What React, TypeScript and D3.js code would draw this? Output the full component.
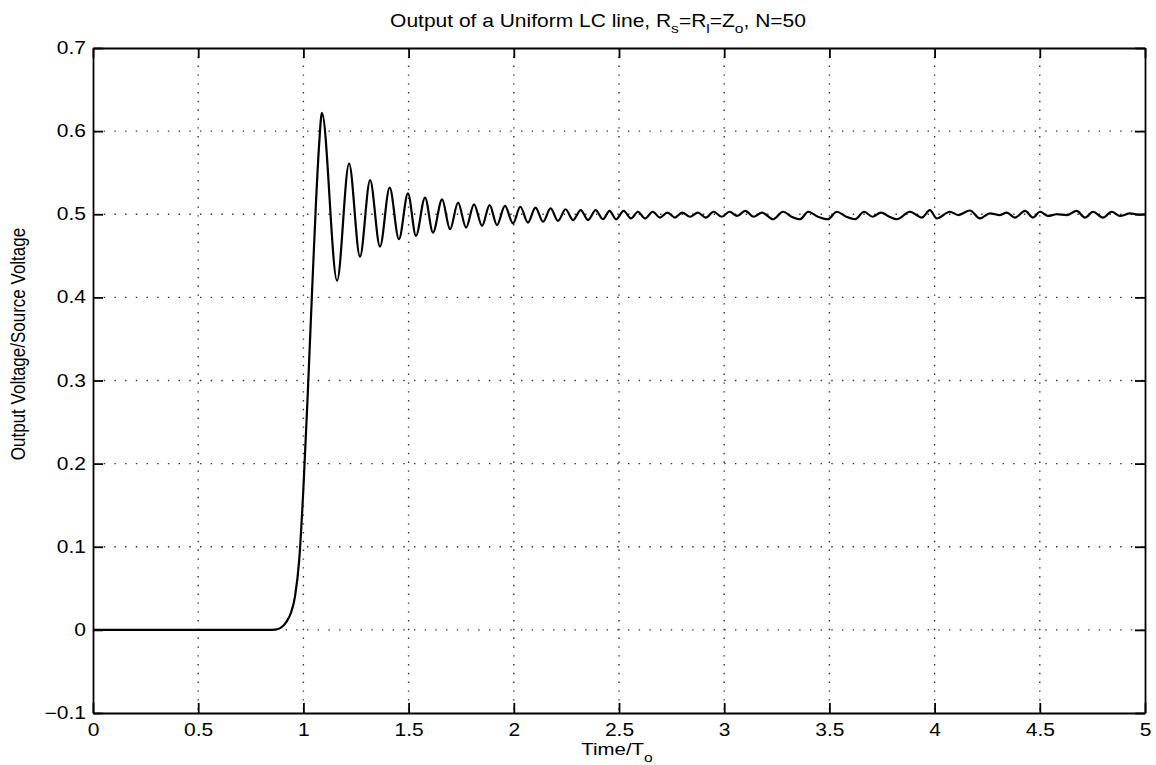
import React, { useRef, useEffect } from 'react';
import * as d3 from 'd3';

// tick values
const xTickValues = [0, 0.5, 1, 1.5, 2, 2.5, 3, 3.5, 4, 4.5, 5];
const yTickValues = [-0.1, 0, 0.1, 0.2, 0.3, 0.4, 0.5, 0.6, 0.7];

// output voltage / source voltage vs time/To
const flatAndRise: [number, number][] = [
  [0, 0], [0.85, 0], [0.88, 0.001], [0.9, 0.004], [0.92, 0.01], [0.94, 0.02],
  [0.96, 0.04], [0.98, 0.084], [1.0, 0.17], [1.02, 0.28], [1.04, 0.4],
  [1.06, 0.515], [1.075, 0.585],
];

const ringing: [number, number][] = [
  [1.088, 0.622], [1.16, 0.42], [1.217, 0.561], [1.269, 0.449], [1.317, 0.541],
  [1.364, 0.461], [1.41, 0.532], [1.454, 0.47], [1.497, 0.525], [1.535, 0.474],
  [1.578, 0.52], [1.616, 0.478], [1.659, 0.518], [1.697, 0.482], [1.735, 0.514],
  [1.773, 0.484], [1.811, 0.512], [1.849, 0.486], [1.885, 0.511], [1.92, 0.487],
  [1.958, 0.51], [1.996, 0.489], [2.031, 0.509], [2.067, 0.49], [2.103, 0.508],
  [2.139, 0.491], [2.175, 0.507], [2.21, 0.492], [2.246, 0.506], [2.282, 0.493],
  [2.318, 0.505], [2.353, 0.493], [2.389, 0.505], [2.424, 0.494], [2.455, 0.504],
  [2.486, 0.494], [2.522, 0.504], [2.557, 0.495], [2.59, 0.503], [2.624, 0.495],
  [2.66, 0.503], [2.695, 0.496], [2.73, 0.502], [2.766, 0.496], [2.8, 0.502],
];

const settled: [number, number][] = [
  [2.838, 0.497], [2.875, 0.502], [2.912, 0.496], [2.95, 0.503], [2.988, 0.497],
  [3.025, 0.503], [3.062, 0.498], [3.1, 0.504], [3.14, 0.497], [3.18, 0.502],
  [3.232, 0.494], [3.28, 0.503], [3.32, 0.497], [3.36, 0.494], [3.4, 0.503],
  [3.445, 0.497], [3.493, 0.494], [3.535, 0.503], [3.58, 0.497], [3.622, 0.494],
  [3.665, 0.503], [3.705, 0.497], [3.745, 0.502], [3.785, 0.497], [3.821, 0.494],
  [3.883, 0.503], [3.939, 0.496], [3.978, 0.505], [4.01, 0.495], [4.073, 0.503],
  [4.113, 0.499], [4.168, 0.5045], [4.216, 0.495], [4.263, 0.501], [4.311, 0.499],
  [4.343, 0.502], [4.382, 0.496], [4.43, 0.504], [4.468, 0.496], [4.501, 0.503],
  [4.539, 0.498], [4.58, 0.5], [4.628, 0.499], [4.675, 0.504], [4.715, 0.496],
  [4.753, 0.503], [4.8, 0.496], [4.842, 0.503], [4.881, 0.498], [4.929, 0.501],
  [4.976, 0.4995], [5, 0.5],
];

const W = 1156;
const H = 765;
const FONT = "'Liberation Sans', Arial, Helvetica, sans-serif";
const STRETCH = 1.2; // the scanned text is wider than it is tall

const App = () => {
  const ref = useRef<SVGSVGElement>(null);

  useEffect(() => {
    const svg = d3.select(ref.current);
    svg.selectAll('*').remove();

    const x = d3.scaleLinear().domain([0, 5]).range([93, 1145]);
    const y = d3.scaleLinear().domain([-0.1, 0.7]).range([713, 48]);
    const [x0, x1] = x.range();
    const [y0, y1] = y.range();

    svg.append('rect').attr('width', W).attr('height', H).attr('fill', '#fff');

    // dotted grid
    svg.append('g')
      .selectAll('line')
      .data(xTickValues.slice(1, -1))
      .join('line')
      .attr('x1', d => x(d)).attr('x2', d => x(d))
      .attr('y1', y1).attr('y2', y0)
      .attr('stroke', '#333').attr('stroke-width', 1.4)
      .attr('stroke-dasharray', '1.4 7.4');

    svg.append('g')
      .selectAll('line')
      .data(yTickValues.slice(1, -1))
      .join('line')
      .attr('x1', x0).attr('x2', x1)
      .attr('y1', d => y(d)).attr('y2', d => y(d))
      .attr('stroke', '#333').attr('stroke-width', 1.4)
      .attr('stroke-dasharray', '1.4 9.3');

    // axes, ticks pointing inward on all four sides
    const fmtY = (d: number) => (d === 0 ? '0' : d < 0 ? '\u2212' + Math.abs(d) : String(d));

    const bottom = svg.append('g')
      .attr('transform', `translate(0,${y0})`)
      .call(d3.axisBottom(x).tickValues(xTickValues).tickSize(-10).tickSizeOuter(0).tickPadding(11)
        .tickFormat(d => String(d)));
    bottom.selectAll('text')
      .attr('transform', `scale(${STRETCH},1)`);

    const left = svg.append('g')
      .attr('transform', `translate(${x0},0)`)
      .call(d3.axisLeft(y).tickValues(yTickValues).tickSize(-10).tickSizeOuter(0)
        .tickFormat(d => fmtY(+d)));
    left.selectAll('text')
      .attr('x', -7 / STRETCH)
      .attr('transform', `scale(${STRETCH},1)`);

    svg.append('g')
      .attr('transform', `translate(0,${y1})`)
      .call(d3.axisTop(x).tickValues(xTickValues).tickSize(-10).tickSizeOuter(0).tickFormat(() => ''));

    svg.append('g')
      .attr('transform', `translate(${x1},0)`)
      .call(d3.axisRight(y).tickValues(yTickValues).tickSize(-10).tickSizeOuter(0).tickFormat(() => ''));

    svg.selectAll('.domain, .tick line').attr('stroke', '#000').attr('stroke-width', 1.8);
    svg.selectAll('.tick text')
      .attr('fill', '#000')
      .attr('font-family', FONT)
      .attr('font-size', 17.5);

    // the response curve
    const data = [...flatAndRise, ...ringing, ...settled];
    const line = d3.line<[number, number]>()
      .x(d => x(d[0]))
      .y(d => y(d[1]))
      .curve(d3.curveMonotoneX);

    svg.append('path')
      .datum(data)
      .attr('fill', 'none')
      .attr('stroke', '#000')
      .attr('stroke-width', 2.2)
      .attr('stroke-linejoin', 'round')
      .attr('d', line);

    // title with subscripts
    const title = svg.append('text')
      .attr('transform', `translate(598,27) scale(${STRETCH},1)`)
      .attr('text-anchor', 'middle')
      .attr('font-family', FONT)
      .attr('font-size', 17.5)
      .attr('fill', '#000');
    const parts: [string, boolean][] = [
      ['Output of a Uniform LC line, R', false], ['s', true], ['=R', false], ['l', true],
      ['=Z', false], ['o', true], [', N=50', false],
    ];
    parts.forEach(([t, sub], i) => {
      const prevSub = i > 0 && parts[i - 1][1];
      title.append('tspan')
        .attr('dy', sub ? 6 : prevSub ? -6 : 0)
        .attr('font-size', sub ? 13 : 17.5)
        .text(t);
    });

    // x label
    const xl = svg.append('text')
      .attr('transform', `translate(617,755) scale(${STRETCH},1)`)
      .attr('text-anchor', 'middle')
      .attr('font-family', FONT)
      .attr('font-size', 17)
      .attr('fill', '#000');
    xl.append('tspan').text('Time/T');
    xl.append('tspan').attr('dy', 7).attr('font-size', 13).text('o');

    // y label
    svg.append('text')
      .attr('transform', `translate(25,344) rotate(-90) scale(1,${STRETCH})`)
      .attr('text-anchor', 'middle')
      .attr('font-family', FONT)
      .attr('font-size', 17)
      .attr('fill', '#000')
      .text('Output Voltage/Source Voltage');
  }, []);

  return (
    <svg
      ref={ref}
      width={W}
      height={H}
      style={{ position: 'absolute', left: 0, top: 0, display: 'block' }}
    />
  );
};

export default App;
